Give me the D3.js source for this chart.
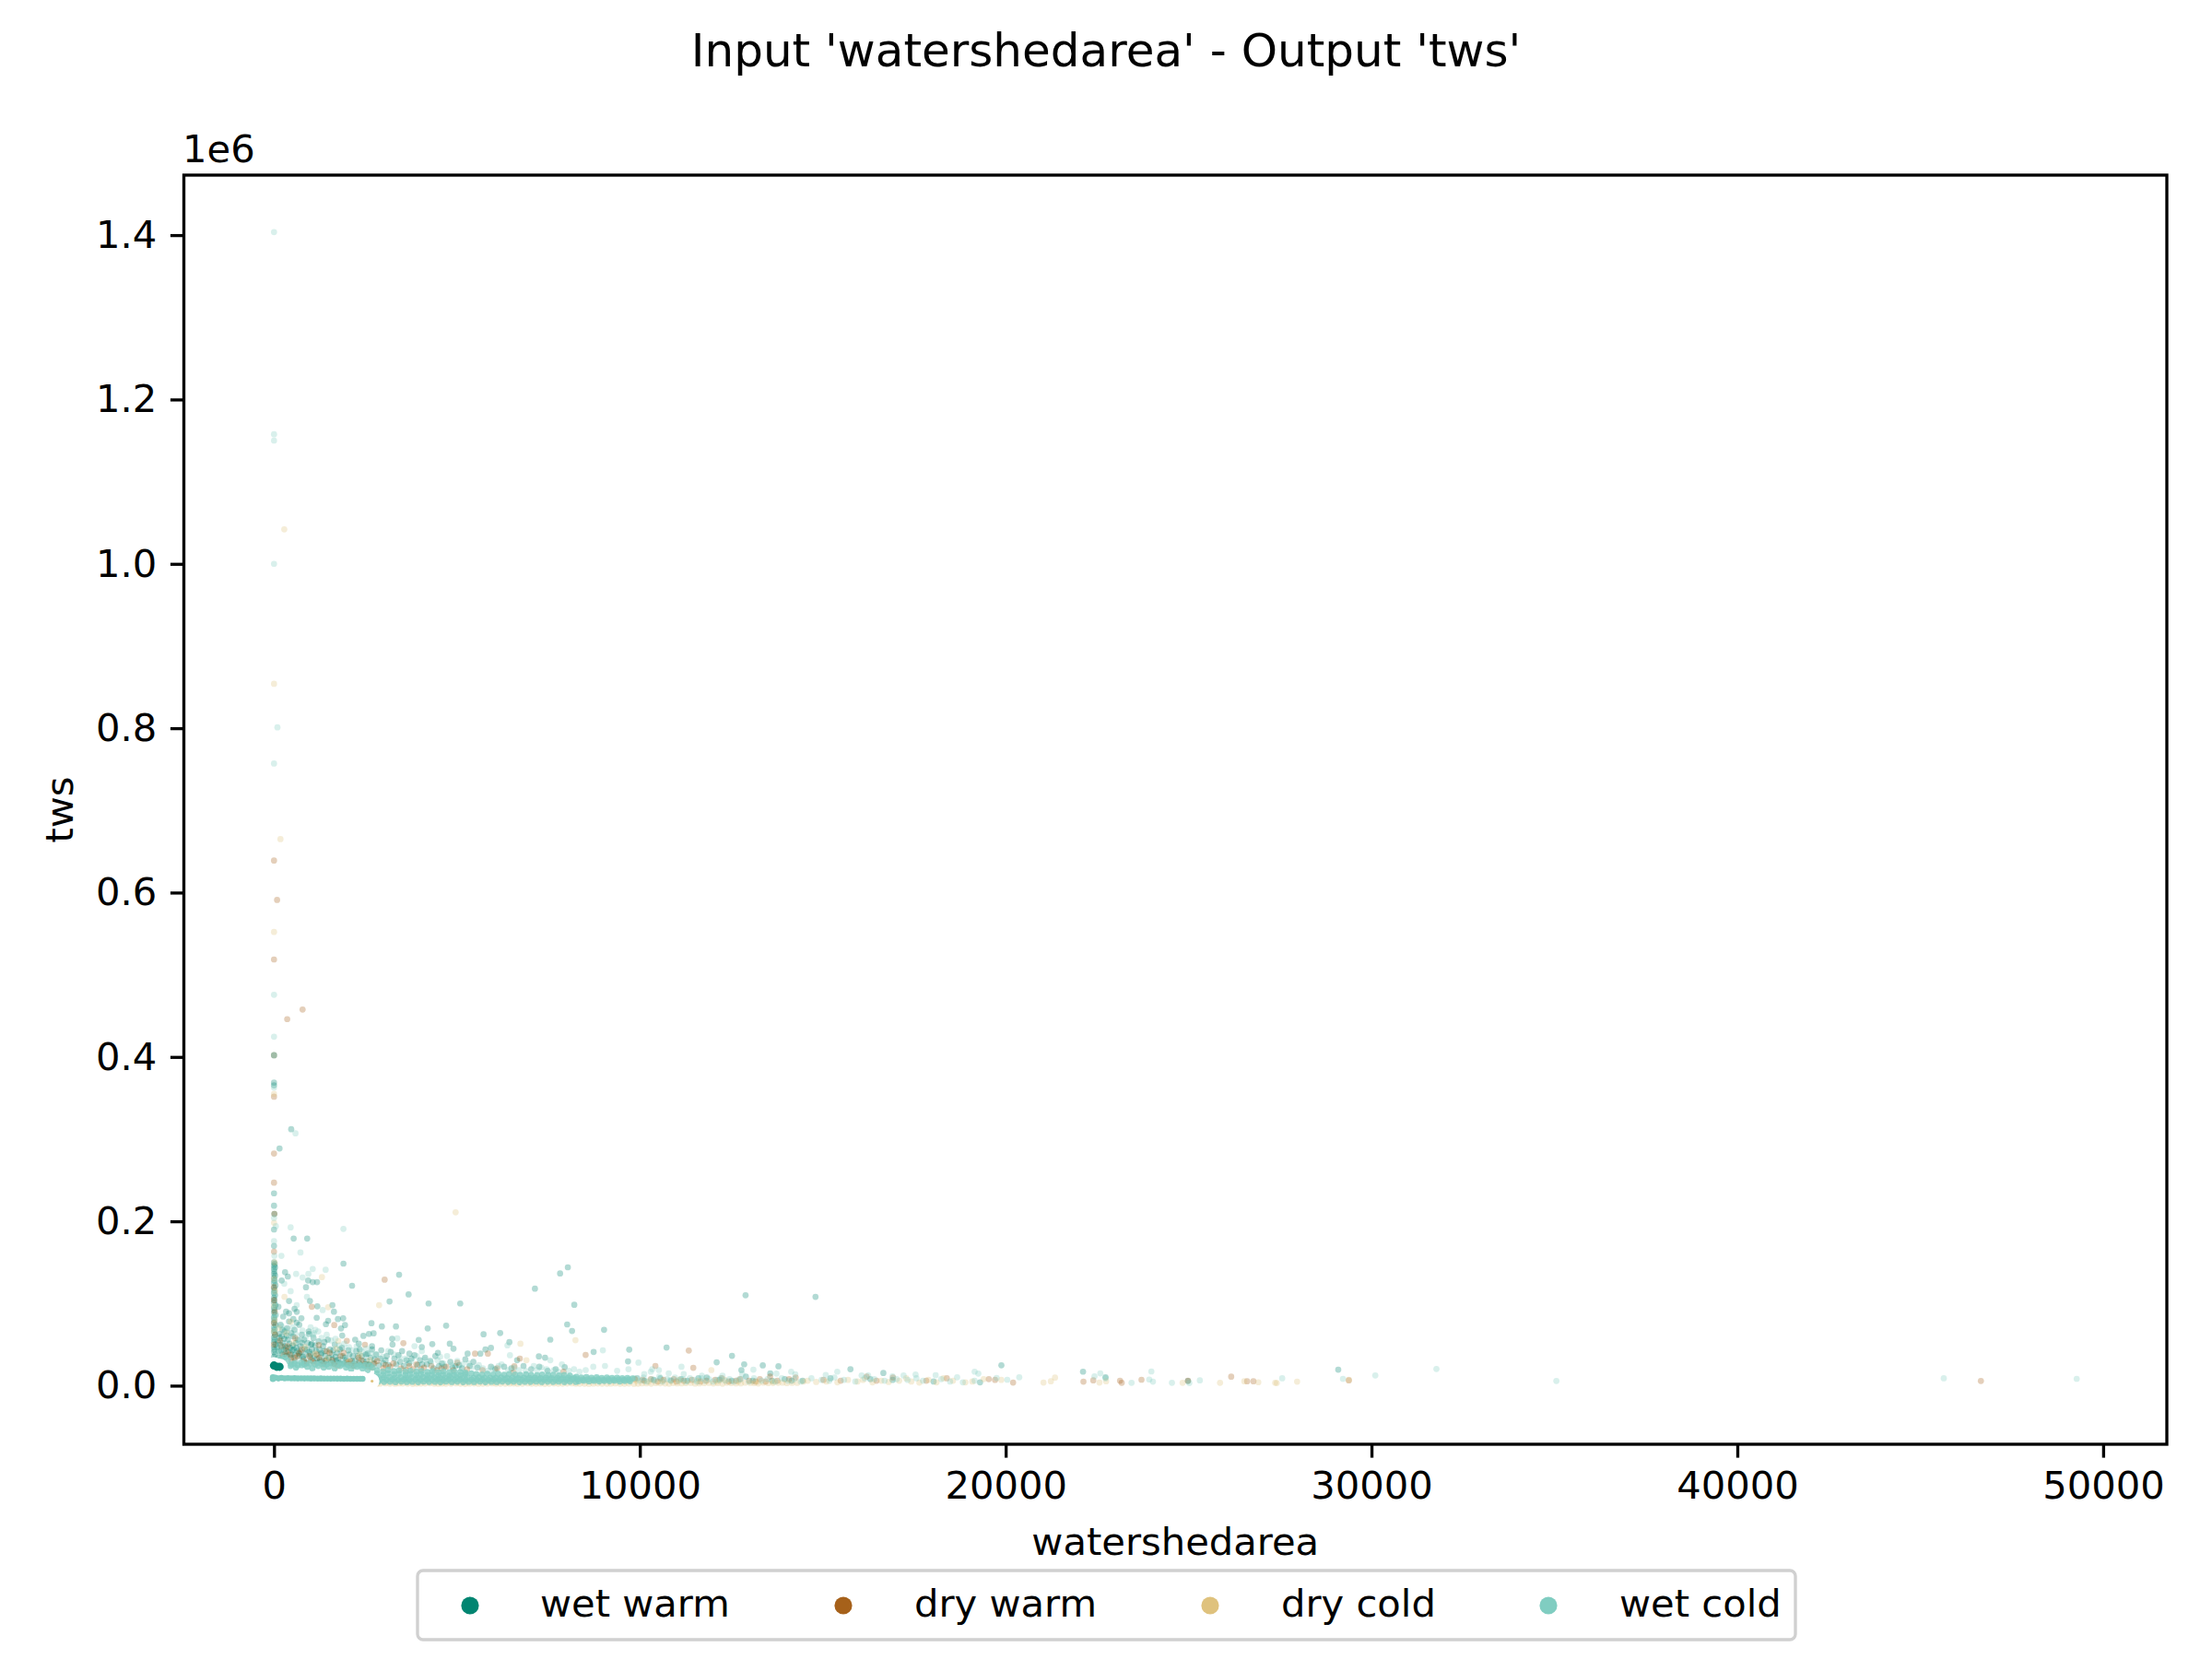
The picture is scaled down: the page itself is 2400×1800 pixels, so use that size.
<!DOCTYPE html>
<html><head><meta charset="utf-8">
<script src="https://cdn.jsdelivr.net/npm/d3@7"></script>
<style>html,body{margin:0;background:#fff}svg{display:block}text{font-family:"DejaVu Sans";fill:#000}</style>
</head><body><svg id="c" width="2400" height="1800"></svg>
<script>
// every pair: [watershedarea, tws in thousands]
const wetWarm=[[0,368.7],[0,365.4],[0,402],[470,312],[151,288.6],[0,234],[0,219],[10,209],[0,190],[0,170],[0,150],[20,148],[0,146],[30,144],[0,142],[10,139],[0,136],[30,134],[0,131],[10,128],[0,125],[40,122],[0,119],[10,116],[0,113],[30,110],[0,107],[10,104],[0,101],[40,98],[0,95],[10,92],[0,89],[30,86],[0,83],[10,80],[0,77],[40,74],[0,71],[10,68],[0,65],[30,62],[0,59],[10,56],[0,53],[40,50],[0,47],[10,44],[0,41],[30,38],[0,35],
[537,179],[907,179],[1898,148.5],[302,138],[378,132.8],[210,128],[932,128],[1058,126],[1177,126],[2134,121.6],[874,119.7],[3419,135],[3679,111],[3158,102.5],[4226,100],[5090,100],[7132,118],[7820,136.5],[8032,144],[8208,98.4],[8014,74.5],[8147,66.6],[7552,56],[9022,68],[9710,43.8],[9677,29.6],[8737,41],[6182,64],[5728,62.5],[4705,73],[4201,69.6],[3334,72],[2948,72],[2664,76],[6434,53],[5930,46],[5780,44],[5640,39],[7240,35.6],[7409,34],[6645,31],[7946,22.5],[3956,55.7],[4326,50.6],[4805,51],[4906,45],[3230,57],[3240,50],[4040,47],[4480,40],[4410,36],[4130,34],[3700,39],[3500,42],[5292,39],[5450,29],[5230,32],[5060,25],[4960,24],[4360,21],[4590,27],[4050,26],[
1479,79],[1596,98],[1638,90],[1747,81],[1890,82],[1940,73.7],[1832,69.6],[1865,61],[1167,82.6],[983,103],[411,103],[1184,96.6],[562,93.5],[622,89.8],[411,88],[748,82],[529,81],[622,76.7],[1419,74.8],[958,63],[1378,53],[1033,51],[496,43],[2218,56],[2444,60.6],[2596,63],[2722,63.6],[2318,51],[2679,48],[2931,43],[2553,39],[2344,44],
[120,96],[250,84],[330,90],[410,78],[180,74],[290,66],[360,70],[470,64],[150,58],[240,52],[300,48],[380,56],[440,46],[520,60],[600,52],[560,68],[690,74],[760,62],[640,42],[720,48],[820,56],[900,44],[950,66],[1010,50],[1080,58],[1150,42],[1220,54],[1280,38],[1340,48],[1410,36],[1470,56],[1530,44],[1600,32],[1660,50],[1730,40],[1790,28],[1860,46],[1930,34],[2000,26],[2060,38],[2130,30],[2190,24],[2250,42],[2320,28],[2400,36],[2470,24],[2530,30],[2600,26],[2680,44],[2750,32],[130,42],[220,38],[340,36],[460,34],[580,30],[700,36],[810,32],[880,28],[990,34],[1060,30],[1190,28],[1310,30],[1450,26],[1580,38],[1700,30],[1840,26],[100,54],[170,50],[210,60],[270,44],[330,46],[120,34],[200,31],[260,28],[3080,36],[3290,33],[3450,29],[3620,31],[3840,37],
[90,47],[140,63],[190,43],[230,68],[280,57],[310,39],[350,61],[390,41],[420,51],[480,38],[510,49],[540,44],[570,37],[610,46],[650,56],[680,39],[730,41],[770,52],[790,35],[840,45],[860,38],[920,52],[970,41],[1000,38],[1040,44],[1110,36],[1130,49],[1170,33],[1240,44],[1260,31],[1300,40],[1360,27],[1390,42],[1430,31],[1500,34],[1550,28],[1620,43],[1640,27],[1680,35],[1760,32],[1800,44],[1880,36],[1910,27],[1980,31],[2030,43],[2090,27],[2160,36],[2220,30],[2290,36],[2360,25],[2440,30],[2510,38],[2570,26],[2640,34],[2710,27],[2790,38],[2860,25],[2910,33],[2990,27],[3050,31],[3130,25],[3190,41],[3340,26],[3400,37],[3550,24],[3690,27],[3760,33],[3920,25],[3990,31],[4180,26],[4270,30],[4510,24],[4660,23],[4820,29],[4880,22],[5140,21],[5350,24],[5560,22],[5930,23],[6050,20],[6290,23],[6490,21],[6820,24],[7030,20],[7250,23],[7480,18],[7700,20],
[12890,110],[14802,108],[10730,46.4],[12100,28.4],[12519,36.3],[12852,26],[12776,19],[13361,24.7],[13789,23.6],[13565,15],[15757,20],[16657,15.4],[19883,24.8],[22115,17],[22730,10.2],[24983,5.7],[29091,19.5],[10380,7],[11120,8],[11600,9],[12180,7],[12900,11],[13610,6],[14450,6],[15210,9],[16300,8],[16910,7],[18030,5],[19300,4],[9930,9],[10120,6],[10560,9],[10850,6],[11300,6],[11830,10],[12510,6],[13090,6],[13960,8],[14150,6]];
const dryWarm=[[0,639],[84,591],[0,518.6],[781,457.7],[361,446],[0,402],[0,351.6],[0,282.5],[0,247],[10,209],[0,163],[0,120],[0,104],[20,90],[0,76],[30,62],[0,50],[3024,129],[1033,96],[1646,73.7],[1991,54.6],[2487,49.8],[3536,51.7],[1226,49.4],[580,58],[200,48],[340,42],[430,38],[560,34],[690,40],[820,30],[960,36],[1090,28],[1240,34],[1390,30],[1520,40],[1650,26],[1820,36],[1990,28],[2150,24],[2310,34],[2490,26],[2670,22],[2820,30],[3050,25],[3260,27],[3470,21],[3700,24],[3890,26],[4100,22],[4300,24],[4580,21],[4710,23],[5494,39],[5846,39],[8518,37.4],[6569,23.6],[6544,16],[7913,17],[6720,33],[5010,28],[5280,20],[5700,19],[6100,21],[10425,24],[11338,42.7],[11461,21.7],[10300,8],[10650,7],[11000,5],[11420,7],[11820,6],[12240,9],[12740,8],[12990,6],[13280,8],[13560,11],[14080,8],[14260,10],[15020,7],[15490,6],[16200,11],[16470,6],[16920,10],[17830,6],[18391,9],[19540,8],[19710,7],[20203,3.8],[22126,4.9],[22395,6.4],[23126,6],[23172,3.5],[23713,7.2],[24983,6],[26165,10.9],[26600,5.3],[26772,5.3],[29381,6.4],[46658,5.7],
[160,55],[260,37],[370,48],[470,31],[640,36],[760,44],[890,27],[1020,31],[1170,38],[1330,26],[1440,42],[1590,31],[1740,24],[1900,40],[2080,30],[2240,26],[2390,31],[2580,23],[2740,27],[2990,21],[3180,23],[3610,19],[3800,20],[4020,20],[4450,19],[4900,19],[9860,8],[10080,7],[10490,5],[10930,8],[11200,6],[11660,5],[12060,7],[12430,5],[12630,6],[13160,5],[13440,5],[13760,6]];
const dryCold=[[0,854],[280,1042],[176,665],[0,552],[0,355],[0,198],[15,150],[0,130],[30,115],[0,97],[20,80],[0,66],[285,108],[454,77.8],[1479,95.4],[1756,54.3],[2873,98],[1310,132],[4964,211],[8240,55.4],[6736,51],[6900,31],[11955,19],
[2820,2.4],[3040,2.8],[3310,2.2],[3520,2.6],[3790,2.1],[4010,2.5],[4260,2.9],[4490,2.2],[4700,2.4],[4980,2.7],[5220,2.1],[5470,2.6],[5710,2.4],[5960,2.8],[6190,2.3],[6440,2.5],[6660,2.2],[6930,2.7],[7160,2.4],[7400,2.1],[7650,2.6],[7890,2.3],[8140,2.8],[8360,2.4],[8610,2.2],[8850,2.6],[9100,2.3],[9330,2.7],[9580,2.4],[9840,2.2],[10060,2.7],[10310,2.4],[10560,2.9],[10800,2.4],[11020,2.7],[11260,3],[11510,2.5],[11760,3.1],[12010,2.6],[12260,2.4],[12500,3],[12760,2.7],[13020,3.3],[13240,2.6],[13510,3],[13780,3.5],[14020,3],[14300,3.4],
[2900,2.5],[3170,2.4],[3420,2.7],[3650,2.3],[3900,2.4],[4130,2.6],[4380,2.3],[4590,2.5],[4840,2.4],[5100,2.3],[5340,2.5],[5590,2.2],[5830,2.5],[6070,2.4],[6320,2.3],[6550,2.6],[6790,2.3],[7040,2.4],[7280,2.5],[7520,2.3],[7770,2.4],[8010,2.6],[8250,2.4],[8490,2.3],[8730,2.5],[8970,2.4],[9210,2.5],[9460,2.3],[9700,2.6],[9950,2.4],[10180,2.8],[10440,3.1],[10690,2.6],[10910,3.2],[11140,2.8],[11390,3.3],[11630,2.7],[11890,3.4],[12130,3],[12380,3.5],[12630,2.8],[12880,3.6],[13130,3.1],[13380,3.7],[13640,3.2],[13900,3.6],[14160,3.3],
[9900,6],[10240,5],[10610,6],[11070,7],[11590,6],[12110,5],[12320,7],[12690,5],[13210,5],[13650,5],[14470,5],
[14590,6],[14820,4.5],[15100,5],[15400,4],[15690,7],[15950,5],[16100,7],[16360,4],[16600,6],[16800,4.5],[17090,6],[17280,9],[17420,5],[17640,3.8],[17890,7],[18110,4],[18300,9],[18560,6],[18900,4],[19090,5],[19400,8],[19880,7],[21034,3.8],[21236,5.3],[21349,9.8],[22564,3.8],[22746,5.3],[24837,3.5],[25860,3.5],[26523,5.3],[26906,4.1],[27367,3.5],[27410,3.2],[27967,4.9],[29381,7],
[130,70],[340,64],[530,52],[850,47],[1120,39],[1460,33],[1710,45],[2040,29],[2350,38],[2620,31]];
const wetCold=[[0,1403.7],[0,1157.7],[0,1150],[0,1000],[93,801],[0,757],[0,475.6],[0,424.6],[0,402],[0,362.7],[587,307],[0,204],[50,194],[454,192.6],[1898,190.8],[723,162],[202,158],[0,176],[10,158],[0,143],[30,127],[0,112],[15,96],[0,84],[40,70],[605,136],[940,136],[1058,142],[1411,141],[781,131.6],[454,115],[280,124],[900,108],[1330,92],[620,98],[1058,62],[1130,68],[3369,57.6],[3840,48],[4040,42],[4540,35],[4730,36],[5010,30],[8989,43],[9047,24],[9962,28],[8727,23],[6380,49],[6450,37],[7552,31],[7870,26],[5320,27],[5710,21],[5850,18],[6220,26],[6700,19],[7100,24],[7310,22],[7650,19],[8350,17],[8520,19],[9380,18],[9690,20],[10120,14],[10300,17],[10520,19],
[11138,23],[10340,20],[10790,15],[11200,14],[11700,12],[12260,12],[12800,14],[13104,19.5],[13734,14.7],[14137,17],[14250,13.9],[15397,17],[15082,13],[16063,12.4],[16241,12.4],[16907,11.3],[17209,12.4],[17537,13.6],[18086,12.8],[18673,10.2],[19152,17],[19253,14.7],[19752,9.4],[20044,7.2],[20372,10.2],[22428,11.3],[22587,15],[22730,9],[23441,3.5],[23983,17.3],[23925,7.5],[24026,4.9],[24545,3.5],[25020,3.2],[25308,6.4],[27559,9],[29220,8.3],[30104,12.4],[31775,20.3],[35054,5.7],[45644,9],[49277,8.3],
[12760,8],[12980,5],[13120,9],[13330,6],[13490,8],[13700,5],[13880,9],[14050,6],[14220,8],[14400,5],[14690,9],[14970,7],[15180,6],[15320,10],[15580,7],[15890,5],[16150,9],[16410,8],[16690,6],[17020,8],[17320,7],[17560,9],[17740,6],[18240,8],[18480,5],[18830,4],[19150,6],
[9850,9],[9990,6],[10100,10],[10190,5],[10320,8],[10410,6],[10530,11],[10620,5],[10740,8],[10830,7],[10960,10],[11060,6],[11180,8],[11260,5],[11370,9],[11480,7],[11560,5],[11690,9],[11780,6],[11890,8],[12000,5],[12110,7],[12210,9],[12340,6],[12450,8],[12570,5],[12690,7],
[60,86],[210,72],[330,68],[420,61],[510,71],[590,63],[680,55],[780,67],[860,59],[1000,71],[1090,64],[1210,66],[1300,58],[1440,62],[1560,55],[1680,57],[1780,49],[1920,51],[2050,47],[2140,43],[2260,48],[2390,42],[2520,45],[2640,40],[2800,38],[2970,35],[3120,42],[3280,38],[3430,35],[3590,33],[3750,30],[3900,36],[4110,32],[4290,28],[4470,31],[4630,27],[4860,25],[5150,26],[5420,23],[5600,25],[5990,21],[6140,24],[6400,19],[6570,22],[6880,18],[7190,19],[7450,20],[7770,17],[8060,18],[8200,20],
[40,58],[70,42],[110,38],[60,30],[130,48],[190,35],[90,32],[230,42],[150,30]];
// close overplotting along the foot of the cloud
const wetColdDense=[[210,32],[290,34],[370,30],[480,26],[560,27],[650,25],[740,28],[830,26],[450,24],[600,22],[760,25],[910,23],[1050,21],[1210,24],[1360,22],[1500,23],[1660,21],[1810,24],[1970,22],[2110,20],[2270,23],[2420,21],[2560,19],[2700,22],[980,27],[1130,26],[1280,27],[1430,26],[1580,27],[1740,26],[1890,27],[2040,25],[2190,26],[2340,25],[2490,25],[2630,24],
[2820,18.6],[2980,17.2],[3120,19],[3280,17.6],[3420,18.4],[3590,16.8],[3730,18],[3890,17],[4030,17.8],[4190,16.6],[4330,17.4],[4490,16.4],[4630,17.2],[4790,16.2],[4930,17],[5090,16.6],[5230,15.8],
[2820,14.6],[2980,13.2],[3120,15],[3280,13.6],[3420,14.4],[3590,12.8],[3730,14],[3890,13],[4030,13.8],[4190,12.6],[4330,13.4],[4490,12.4],[4630,13.2],[4790,12.2],[4930,13],[5090,12.6],[5230,13.8],[5390,14.8],[5530,14],[5690,13.4],[5830,14.4],[5990,13.6],[6130,14.2],[6290,13.2],[6430,14],[6590,13.4],[6730,12.8],[6890,13.8],[7030,13],[7190,12.6],[7330,13.6],[7490,12.8],[7630,13.2],[7790,12.4],[7930,13],[8090,12.2],
[2840,10.6],[3000,9.8],[3150,10.4],[3300,9.6],[3460,10.2],[3610,9.4],[3760,10],[3920,9.6],[4070,10.3],[4220,9.5],[4380,10.1],[4530,9.3],[4680,9.9],[4830,9.5],[4990,10.2],[5140,9.3],[5290,9.8],[5450,9.4],[5600,10],[5750,9.2],[5910,9.7],[6060,9.3],[6210,9.9],[6370,9.2],[6520,9.6],[6670,9.1],[6830,9.7],[6980,9.2],[7130,9.5],[7290,9],[7440,9.6],[7590,9.1],[7750,9.4],[7900,9],[8050,9.5],[8200,9.1],
[2900,7.6],[3070,7.2],[3230,7.6],[3390,7.1],[3550,7.5],[3700,7],[3860,7.4],[4010,7.1],[4170,7.5],[4320,7.1],[4470,7.4],[4620,7],[4780,7.4],[4940,7.1],[5090,7.5],[5240,7],[5400,7.4],[5550,7.1],[5700,7.5],[5860,7],[6010,7.4],[6160,7.1],[6320,7.5],[6470,7],[6620,7.3],[6780,7.1],[6930,7.5],[7080,7],[7240,7.4],[7390,7.1],[7540,7.4],[7700,7],[7850,7.3],[8000,7],[8150,7.4],
[2860,5.2],[3010,4.6],[3170,4.9],[3320,4.4],[3480,5],[3630,4.5],[3780,4.8],[3940,4.4],[4090,5],[4240,4.6],[4400,4.8],[4550,4.4],[4700,5],[4860,4.5],[5010,4.9],[5170,4.4],[5320,4.8],[5470,4.5],[5630,5],[5780,4.4],[5940,4.8],[6090,4.5],[6240,5],[6400,4.6],[6550,4.9],[6710,4.4],[6860,4.8],[7010,4.6],[7170,5.1],[7320,4.5],[7480,4.9],[7630,4.6],[7780,5],[7940,4.5],[8090,4.9],[8250,4.6],
[8260,10.8],[8400,9.8],[8540,10.4],[8680,9.6],[8820,10],[8960,9.4],[9100,9.8],[9240,9.2],[9380,9.6],[9520,9],[9660,9.4],[9800,8.8],
[8300,7.6],[8440,7.2],[8580,7.6],[8720,7.1],[8860,7.5],[9000,7.1],[9140,7.5],[9280,7.1],[9420,7.4],[9560,7],[9700,7.3],
[8330,5.4],[8470,6],[8610,5.3],[8750,5.9],[8890,5.2],[9030,5.8],[9170,5.4],[9310,6],[9450,5.2],[9590,5.8],[9730,5.4]];
// the markers drawn solid with a white edge
const wetWarmSolid=[[0,24.5],[76,23],[151,23]];
const wetColdSolid=[[-30,10.2],[-30,8],[40,9.6],[120,8.8],[200,9.4],[290,8.9],[380,9.1],[470,8.9],[560,9],[650,8.8],[740,8.9],[830,8.8],[920,8.9],[1010,8.7],[1100,8.8],[1190,8.6],[1280,8.7],[1370,8.6],[1460,8.6],[1550,8.5],[1640,8.6],[1730,8.5],[1820,8.5],[1910,8.4],[2000,8.5],[2090,8.4],[2180,8.4],[2270,8.3],[2360,8.4],[2420,8.3]];
const dryColdSolid=[[2680,5.5]];

const seriesNames=["wet warm","dry warm","dry cold","wet cold"];
const seriesColors=["#018571","#a6611a","#dfc27d","#80cdc1"];
const xTicks=[0,10000,20000,30000,40000,50000];
const yTicks=[0,200,400,600,800,1000,1200,1400];

const svg=d3.select("#c");
const L=199.5,R=2351,T=190,B=1567;
const x=d3.scaleLinear().domain([-2464,51741]).range([L,R]);
const y=d3.scaleLinear().domain([-71.3,1473]).range([B,T]);
const FS=41.67;

const plot=svg.append("g");
[wetWarm,dryWarm,dryCold,wetCold].forEach((d,i)=>{
  plot.append("g").attr("fill",seriesColors[i]).attr("fill-opacity",0.3)
    .selectAll("circle").data(d).join("circle")
    .attr("cx",p=>x(p[0])).attr("cy",p=>y(p[1])).attr("r",3.35);
});
plot.append("g").attr("fill",seriesColors[3]).attr("fill-opacity",0.8)
  .selectAll("circle").data(wetColdDense).join("circle")
  .attr("cx",p=>x(p[0])).attr("cy",p=>y(p[1])).attr("r",3.4);
const solids=[[wetWarmSolid,0,4.5],[wetColdSolid,3,3.3],[dryColdSolid,2,1.6]];
solids.forEach(([d,i])=>{
  plot.append("g").attr("fill","#fff").selectAll("circle").data(d).join("circle")
    .attr("cx",p=>x(p[0])).attr("cy",p=>y(p[1])).attr("r",i===0?9:8);
});
solids.forEach(([d,i,r])=>{
  plot.append("g").attr("fill",seriesColors[i]).selectAll("circle").data(d).join("circle")
    .attr("cx",p=>x(p[0])).attr("cy",p=>y(p[1])).attr("r",r);
});

const styleAxis=g=>{
  g.selectAll(".domain").remove();
  g.selectAll(".tick line").attr("stroke","#000").attr("stroke-width",3.33);
  g.selectAll(".tick text").attr("font-size",FS).attr("fill","#000").attr("font-family","DejaVu Sans");
};
svg.append("g").attr("transform",`translate(0,${B})`)
  .call(d3.axisBottom(x).tickValues(xTicks).tickFormat(d3.format("d")).tickSize(14.6).tickPadding(14.6)).call(styleAxis);
svg.append("g").attr("transform",`translate(${L},0)`)
  .call(d3.axisLeft(y).tickValues(yTicks).tickFormat(d=>(d/1000).toFixed(1)).tickSize(14.6).tickPadding(14.6)).call(styleAxis);
svg.append("rect").attr("x",L).attr("y",T).attr("width",R-L).attr("height",B-T)
  .attr("fill","none").attr("stroke","#000").attr("stroke-width",3.33);

svg.append("text").attr("x",1200).attr("y",72).attr("text-anchor","middle").attr("font-size",50).text("Input 'watershedarea' - Output 'tws'");
svg.append("text").attr("x",(L+R)/2).attr("y",1687).attr("text-anchor","middle").attr("font-size",FS).text("watershedarea");
svg.append("text").attr("transform",`translate(79,${(T+B)/2}) rotate(-90)`).attr("text-anchor","middle").attr("font-size",FS).text("tws");
svg.append("text").attr("x",198).attr("y",176).attr("font-size",FS).text("1e6");

svg.append("rect").attr("x",453).attr("y",1704).attr("width",1495).attr("height",75).attr("rx",6)
  .attr("fill","#fff").attr("stroke","#d0d0d0").attr("stroke-width",3.33);
const legendMarkX=[510,915,1313,1680], legendTextX=[586,992,1390,1757];
seriesNames.forEach((n,i)=>{
  svg.append("circle").attr("cx",legendMarkX[i]).attr("cy",1742).attr("r",9.6).attr("fill",seriesColors[i]);
  svg.append("text").attr("x",legendTextX[i]).attr("y",1754).attr("font-size",FS).text(n);
});
</script></body></html>
